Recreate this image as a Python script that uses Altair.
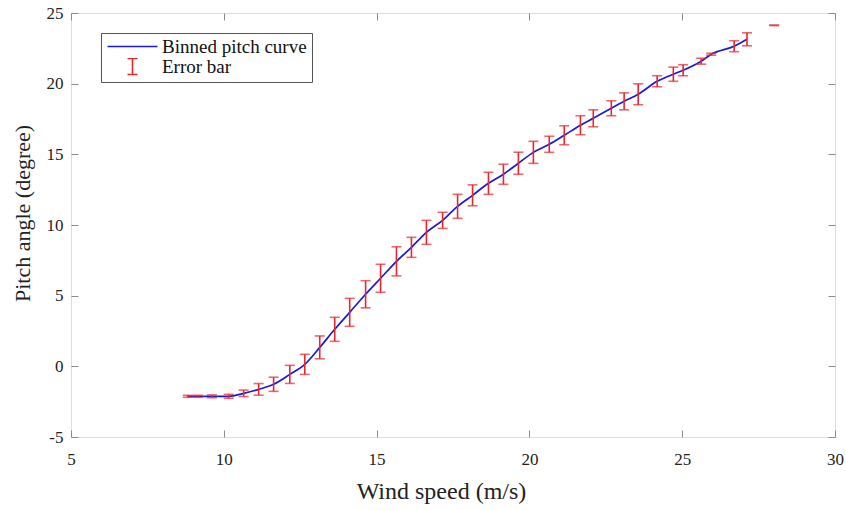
import altair as alt
import pandas as pd

# Binned wind speed (m/s), mean pitch angle (degree), half error-bar (degree)
wind_speed = [8.82, 9.15, 9.61, 10.16, 10.65, 11.14, 11.63, 12.16, 12.65, 13.14,
              13.63, 14.12, 14.64, 15.13, 15.65, 16.14, 16.63, 17.16, 17.65, 18.14,
              18.66, 19.15, 19.64, 20.13, 20.65, 21.14, 21.67, 22.09, 22.68, 23.10,
              23.56, 24.18, 24.71, 25.03, 25.62, 25.95, 26.70, 27.12, 28.01]
pitch_angle = [-2.12, -2.12, -2.12, -2.12, -1.91, -1.63, -1.27, -0.57, 0.14, 1.34,
               2.62, 3.82, 5.10, 6.23, 7.43, 8.42, 9.48, 10.33, 11.32, 12.10,
               12.95, 13.59, 14.37, 15.14, 15.71, 16.35, 17.06, 17.55, 18.26, 18.75,
               19.25, 20.17, 20.67, 20.95, 21.59, 22.08, 22.65, 23.14, 24.13]
error_half = [0.07, 0.07, 0.10, 0.14, 0.23, 0.41, 0.50, 0.64, 0.71, 0.81,
              0.85, 0.99, 0.96, 0.99, 1.03, 0.71, 0.85, 0.57, 0.85, 0.74,
              0.78, 0.71, 0.78, 0.78, 0.57, 0.67, 0.67, 0.60, 0.53, 0.60,
              0.74, 0.39, 0.50, 0.39, 0.21, 0.07, 0.39, 0.46, 0.02]
x_ticks = [5, 10, 15, 20, 25, 30]
y_ticks = [-5, 0, 5, 10, 15, 20, 25]
series = ["Binned pitch curve", "Error bar"]

BLUE = "#1a1ad8"
RED = "#e8262b"
FONT = "Liberation Serif"
GRAY = "#8c8c8c"
MINUS_EXPR = "datum.value < 0 ? '-' + abs(datum.value) : datum.label"

df = pd.DataFrame({"ws": wind_speed, "pitch": pitch_angle, "err": error_half})
df["lo"] = df["pitch"] - df["err"]
df["hi"] = df["pitch"] + df["err"]
line_df = df.iloc[:-1]
legend_df = pd.DataFrame({"series": series, "ws": [wind_speed[0]] * 2, "pitch": [pitch_angle[0]] * 2})

xscale = alt.Scale(domain=[5, 30], nice=False, zero=False)
yscale = alt.Scale(domain=[-5, 25], nice=False, zero=False)

x_bottom = alt.Axis(values=x_ticks, offset=-7, tickSize=7, domain=False, grid=False,
                    labelPadding=14, titlePadding=12, labelFontSize=17, titleFontSize=24,
                    labelFont=FONT, titleFont=FONT, titleFontWeight="normal",
                    labelColor="#222", titleColor="#222", tickColor=GRAY, titleX=370,
                    labelFlush=False, labelOverlap=False, title="Wind speed (m/s)")
y_left = alt.Axis(values=y_ticks, offset=-7, tickSize=7, domain=False, grid=False,
                  labelPadding=8, titlePadding=12, labelFontSize=17, titleFontSize=22,
                  labelFont=FONT, titleFont=FONT, titleFontWeight="normal",
                  labelColor="#222", titleColor="#222", tickColor=GRAY, titleY=200,
                  labelExpr=MINUS_EXPR,
                  labelFlush=False, labelOverlap=False, title="Pitch angle (degree)")
x_top = alt.Axis(orient="top", values=x_ticks, offset=-7, tickSize=7, domain=False,
                 grid=False, labels=False, title=None, tickColor=GRAY)
y_right = alt.Axis(orient="right", values=y_ticks, offset=-7, tickSize=7, domain=False,
                   grid=False, labels=False, title=None, tickColor=GRAY)

line = alt.Chart(line_df).mark_line(color=BLUE, strokeWidth=1.7, interpolate="monotone").encode(
    x=alt.X("ws:Q", scale=xscale, axis=x_bottom),
    y=alt.Y("pitch:Q", scale=yscale, axis=y_left),
)

rules = alt.Chart(df).mark_rule(color=RED, strokeWidth=1.6).encode(
    x=alt.X("ws:Q", scale=xscale, axis=x_top),
    y=alt.Y("lo:Q", scale=yscale, axis=y_right),
    y2="hi:Q",
)

cap_lo = alt.Chart(df).mark_tick(orient="horizontal", size=10, thickness=1.6, color=RED).encode(
    x=alt.X("ws:Q", scale=xscale, axis=None),
    y=alt.Y("lo:Q", scale=yscale, axis=None),
)
cap_hi = alt.Chart(df).mark_tick(orient="horizontal", size=10, thickness=1.6, color=RED).encode(
    x=alt.X("ws:Q", scale=xscale, axis=None),
    y=alt.Y("hi:Q", scale=yscale, axis=None),
)

line_path = "M-5,0H5"
bar_path = "M-1,-1.6H1M0,-1.6V1.6M-1,1.6H1"
legend_spec = dict(title=None, orient="none", legendX=30, legendY=20, padding=5,
                   strokeColor="#555", fillColor="white", symbolOffset=17, labelOffset=20,
                   symbolStrokeWidth=1.6, symbolSize=100, symbolOpacity=1,
                   labelFont=FONT, labelFontSize=19, clipHeight=17,
                   labelColor="#111", rowPadding=0, labelLimit=0)

legend_layer = alt.Chart(legend_df).transform_filter("datum.ws > 1000").mark_point(
    filled=False, size=100, strokeWidth=1.6, opacity=1
).encode(
    x=alt.X("ws:Q", scale=xscale, axis=None),
    y=alt.Y("pitch:Q", scale=yscale, axis=None),
    color=alt.Color("series:N", scale=alt.Scale(domain=series, range=[BLUE, RED]),
                    legend=alt.Legend(**legend_spec)),
    shape=alt.Shape("series:N", scale=alt.Scale(domain=series, range=[line_path, bar_path]),
                    legend=alt.Legend(**legend_spec)),
)

chart = alt.layer(line, rules, cap_lo, cap_hi, legend_layer).resolve_scale(
    x="independent", y="independent"
).resolve_axis(x="independent", y="independent").properties(
    width=764, height=424,
    autosize=alt.AutoSizeParams(type="none"),
    padding={"left": 71, "top": 13, "right": 11, "bottom": 73},
).configure_view(stroke=GRAY, strokeWidth=1.2).configure(background="white")

chart.save("out.html", embed_options={"renderer": "svg", "actions": False})
